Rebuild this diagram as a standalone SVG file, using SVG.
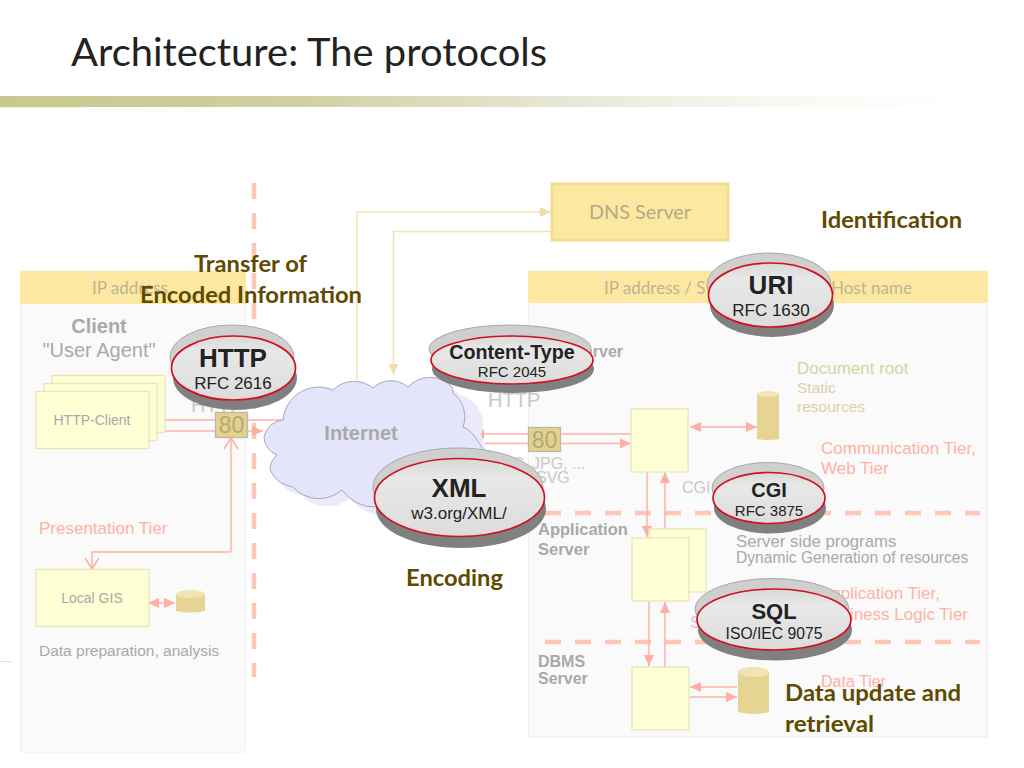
<svg xmlns="http://www.w3.org/2000/svg" width="1024" height="768" viewBox="0 0 1024 768">
<style>
text{font-family:"Liberation Sans",Arial,sans-serif}
.cal{font-family:Lato,"Open Sans",sans-serif}
.lab{font-family:Lato,"Open Sans",sans-serif;font-weight:700;font-size:23px;fill:#5f4b00}
.ip{font-family:Lato,"Open Sans",sans-serif;font-size:17px;fill:#bdb597}
.panel{fill:#fafafa;stroke:#f0f0f0}
.head{fill:#fce8a0}
.box{fill:#ffffd6;stroke:#e6e6b8;stroke-width:1.3}
.port{fill:#e3d190;stroke:#bdb9a0;stroke-width:1.3}
.portt{font-size:23px;fill:#b3ab74;text-anchor:middle}
.dash{fill:none;stroke:#ffc6b8;stroke-width:4.5;stroke-dasharray:16 14}
.pk{fill:none;stroke:#ffb0a4;stroke-width:1.5}
.ye{fill:none;stroke:#f2e3ad;stroke-width:1.5}
.cyl{fill:#e6d592}
.cyt{fill:#f0e4b4}
.g{fill:#a9a9a9}
.gb{fill:#a9a9a9;font-weight:700}
.lg{fill:#c9c9c9}
.sal{fill:#ffb1a3}
.tan{fill:#d9d2a2}
.top{fill:#cfcfcf;stroke:#a8a8a8;stroke-width:1}
.bot{fill:#808080}
.red{fill:url(#disc);stroke:#d2101f;stroke-width:1.7}
.big{font-weight:700;fill:#222;text-anchor:middle}
.sm{fill:#222;text-anchor:middle}
.mid{text-anchor:middle}
</style>
<defs>
<linearGradient id="bar" x1="0" x2="1" y1="0" y2="0"><stop offset="0" stop-color="#c8c88e"/><stop offset="0.3" stop-color="#cfcfa0"/><stop offset="0.6" stop-color="#e8e8d8"/><stop offset="0.8" stop-color="#f8f8f2"/><stop offset="1" stop-color="#ffffff"/></linearGradient>
<linearGradient id="disc" x1="0" x2="0" y1="0" y2="1"><stop offset="0" stop-color="#d8d8d8"/><stop offset="0.25" stop-color="#e8e8e8"/><stop offset="1" stop-color="#dcdcdc"/></linearGradient>
<marker id="f" markerUnits="userSpaceOnUse" markerWidth="12" markerHeight="12" refX="11" refY="6" orient="auto-start-reverse"><path d="M0,1 L11,6 L0,11 Z" fill="#ffaea2"/></marker>
<marker id="o" markerUnits="userSpaceOnUse" markerWidth="14" markerHeight="16" refX="12" refY="8" orient="auto"><path d="M1,1 L12,8 L1,15" fill="none" stroke="#ffaea2" stroke-width="1.5"/></marker>
<marker id="y" markerUnits="userSpaceOnUse" markerWidth="12" markerHeight="12" refX="11" refY="6" orient="auto"><path d="M0,1 L11,6 L0,11 Z" fill="#efe0a6"/></marker>
</defs>
<rect width="1024" height="768" fill="#fff"/>
<g id="title">
<rect x="0" y="96" width="960" height="11" fill="url(#bar)"/>
<rect x="0" y="107" width="82" height="1" fill="#f2f2cc"/>
<rect x="0" y="661" width="12" height="1" fill="#e8e0c4"/>
<text class="cal" x="71" y="66" font-size="38" fill="#222" textLength="476" lengthAdjust="spacingAndGlyphs">Architecture: The protocols</text>
</g>
<g id="panels">
<rect class="panel" x="20.500" y="271" width="225" height="481"/>
<rect class="head" x="20" y="271" width="226" height="33"/>
<rect class="panel" x="528.500" y="271" width="459" height="466"/>
<rect class="head" x="528" y="271" width="460" height="32"/>
<text class="ip" x="92" y="294">IP address</text>
<text class="ip" x="604" y="294">IP address / S</text>
<text class="ip" x="912" y="294" text-anchor="end">Host name</text>
</g>
<g id="tier-lines">
<path class="dash" d="M254,183V677"/>
<path class="dash" d="M545,513H980"/>
<path class="dash" d="M545,642H980"/>
</g>
<g id="connectors">
<path class="ye" d="M357,380V212H551" marker-end="url(#y)"/>
<path class="ye" d="M551,231.500H393.500V375" marker-end="url(#y)"/>
<path class="pk" d="M283,420H149" marker-end="url(#f)"/>
<path class="pk" d="M152,431H263" marker-end="url(#f)"/>
<path class="pk" d="M231,552V438" marker-end="url(#o)"/>
<path class="pk" d="M231,552H92V569" marker-end="url(#o)"/>
<path class="pk" d="M148,603H175" marker-start="url(#f)" marker-end="url(#f)"/>
<path class="pk" d="M631,434H473" marker-end="url(#f)"/>
<path class="pk" d="M485,443.500H631" marker-end="url(#f)"/>
<path class="pk" d="M690,427H757" marker-start="url(#f)" marker-end="url(#f)"/>
<path class="pk" d="M647,472V537" marker-end="url(#f)"/>
<path class="pk" d="M665,530V472" marker-end="url(#f)"/>
<path class="pk" d="M649,602V666" marker-end="url(#f)"/>
<path class="pk" d="M665,667V602" marker-end="url(#f)"/>
<path class="pk" d="M737,687H690" marker-end="url(#f)"/>
<path class="pk" d="M690,697H737" marker-end="url(#f)"/>
</g>
<g id="client">
<text class="gb mid" x="99" y="333" font-size="20">Client</text>
<text class="g mid" x="99" y="357" font-size="20">"User Agent"</text>
<rect class="box" x="52" y="375.500" width="113" height="57"/>
<rect class="box" x="44" y="383.500" width="113" height="57"/>
<rect class="box" x="36" y="391.500" width="113" height="57"/>
<text class="g mid" x="92" y="425" font-size="14">HTTP-Client</text>
<text class="lg" x="191" y="412" font-size="20">HTTP</text>
<rect class="port" x="215.500" y="412.500" width="32" height="25"/>
<text class="portt" x="231.500" y="433">80</text>
<text class="sal" x="39" y="534" font-size="17">Presentation Tier</text>
<rect class="box" x="36" y="569.500" width="113" height="57"/>
<text class="g mid" x="92" y="603" font-size="14">Local GIS</text>
<path class="cyl" d="M176,594V611Q190.500,614 205,611V594Z"/>
<ellipse class="cyt" cx="190.500" cy="594" rx="14.500" ry="4"/>
<text class="g" x="39" y="656" font-size="15.500">Data preparation, analysis</text>
</g>
<g id="dns">
<rect x="552" y="184" width="176" height="56" fill="#fce8a0" stroke="#f4dc90" stroke-width="3"/>
<text class="cal mid" x="589" y="219" font-size="19" fill="#b5aa88" textLength="102" lengthAdjust="spacingAndGlyphs" style="text-anchor:start">DNS Server</text>
</g>
<g id="internet">
<path d="M272,445A21,21 0 0 1 291,428A36,36 0 0 1 341,398A30,30 0 0 1 381,396A26,26 0 0 1 416,395A30,30 0 0 1 460,395A30,30 0 0 1 481,435A30,30 0 0 1 485,448A40,40 0 0 1 470,510L385,515A40,40 0 0 1 350,498A35,35 0 0 1 301,495A30,30 0 0 1 278,478A20,20 0 0 1 285,463A20,20 0 0 1 272,445Z" fill="#eaeafb"/>
<path d="M264,437A21,21 0 0 1 283,420A36,36 0 0 1 333,390A30,30 0 0 1 373,388A26,26 0 0 1 408,387A30,30 0 0 1 452,387L453,393A30,30 0 0 1 463,427A30,30 0 0 1 477,440A40,40 0 0 1 462,502L377,507A40,40 0 0 1 342,490A35,35 0 0 1 293,487A30,30 0 0 1 270,470A20,20 0 0 1 277,455A20,20 0 0 1 264,437Z" fill="#e4e4fb" stroke="#a8a8b8" stroke-width="1"/>
<text class="gb mid" x="361" y="440" font-size="20">Internet</text>
</g>
<g id="web-server">
<text class="gb" x="623" y="357" font-size="16" text-anchor="end">Web Server</text>
<text class="lg" x="488" y="407" font-size="20">HTTP</text>
<rect class="port" x="528.500" y="427.500" width="32" height="24"/>
<text class="portt" x="544.500" y="448">80</text>
<text class="lg" x="490" y="469" font-size="16">PNG,</text>
<text class="lg" x="532" y="469" font-size="16">JPG, ...</text>
<text class="lg" x="536" y="483" font-size="16">SVG</text>
<rect class="box" x="631" y="409" width="57" height="63"/>
<path class="cyl" d="M757,394V439Q768,441 779,439V394Z"/>
<ellipse class="cyt" cx="768" cy="394" rx="11" ry="3"/>
<text class="tan" x="797" y="374" font-size="17">Document root</text>
<text class="tan" x="797" y="393" font-size="15.500">Static</text>
<text class="tan" x="797" y="412" font-size="15.500">resources</text>
<text class="sal" x="821" y="454" font-size="17">Communication Tier,</text>
<text class="sal" x="821" y="474" font-size="17">Web Tier</text>
<text class="lg" x="682" y="493" font-size="16">CGI</text>
</g>
<g id="app-server">
<text class="gb" x="538" y="535" font-size="16.500">Application</text>
<text class="gb" x="538" y="555" font-size="16.500">Server</text>
<rect class="box" x="649" y="529" width="57" height="63"/>
<rect class="box" x="632" y="538" width="57" height="63"/>
<text class="g" x="736" y="547" font-size="16.800">Server side programs</text>
<text class="g" x="736" y="563" font-size="15.600">Dynamic Generation of resources</text>
<text class="sal" x="940" y="599" font-size="17" text-anchor="end">Application Tier,</text>
<text class="sal" x="968" y="620" font-size="17" text-anchor="end">Business Logic Tier</text>
<text class="lg" x="690" y="628" font-size="16">S</text>
</g>
<g id="dbms-server">
<text class="gb" x="538" y="667" font-size="16">DBMS</text>
<text class="gb" x="538" y="684" font-size="16">Server</text>
<rect class="box" x="632" y="667" width="57" height="63"/>
<path class="cyl" d="M738,672V712Q753.500,716 769,712V672Z"/>
<ellipse class="cyt" cx="753.500" cy="672" rx="15.500" ry="5"/>
<text class="sal" x="821" y="687" font-size="16">Data Tier</text>
</g>
<g id="http-disc">
<ellipse class="bot" cx="235" cy="378" rx="62" ry="32"/><ellipse class="top" cx="232" cy="357" rx="62" ry="32"/><ellipse class="red" cx="233.500" cy="368" rx="62" ry="32"/>
<text class="big" x="233" y="367" font-size="26">HTTP</text><text class="sm" x="233" y="389" font-size="17">RFC 2616</text>
</g>
<g id="content-type-disc">
<ellipse class="bot" cx="513" cy="369" rx="81" ry="24"/><ellipse class="top" cx="510" cy="349" rx="81" ry="24"/><ellipse class="red" cx="512" cy="360" rx="81" ry="24"/>
<text class="big" x="512" y="359" font-size="19.700">Content-Type</text><text class="sm" x="512" y="377" font-size="15">RFC 2045</text>
</g>
<g id="xml-disc">
<ellipse class="bot" cx="461" cy="509" rx="85" ry="39"/><ellipse class="top" cx="458" cy="487" rx="85" ry="39"/><ellipse class="red" cx="459.500" cy="497.500" rx="85" ry="39"/>
<text class="big" x="459" y="497" font-size="26">XML</text><text class="sm" x="459" y="519" font-size="17">w3.org/XML/</text>
</g>
<g id="uri-disc">
<ellipse class="bot" cx="772" cy="305" rx="62" ry="32"/><ellipse class="top" cx="769" cy="285" rx="62" ry="32"/><ellipse class="red" cx="770.500" cy="295" rx="62" ry="32"/>
<text class="big" x="771" y="294" font-size="26">URI</text><text class="sm" x="771" y="316" font-size="17">RFC 1630</text>
</g>
<g id="cgi-disc">
<ellipse class="bot" cx="770" cy="508" rx="56" ry="25.500"/><ellipse class="top" cx="768" cy="488" rx="56" ry="25.500"/><ellipse class="red" cx="769" cy="498" rx="56" ry="25.500"/>
<text class="big" x="769" y="497" font-size="20">CGI</text><text class="sm" x="769" y="516" font-size="15">RFC 3875</text>
</g>
<g id="sql-disc">
<ellipse class="bot" cx="775" cy="630" rx="77" ry="30.500"/><ellipse class="top" cx="772" cy="609" rx="77" ry="30.500"/><ellipse class="red" cx="774" cy="619.500" rx="77" ry="30.500"/>
<text class="big" x="774" y="619" font-size="22">SQL</text><text class="sm" x="774" y="639" font-size="15.700">ISO/IEC 9075</text>
</g>
<g id="labels">
<text class="lab" x="194" y="272" textLength="113" lengthAdjust="spacingAndGlyphs">Transfer of</text>
<text class="lab" x="140" y="303" textLength="222" lengthAdjust="spacingAndGlyphs">Encoded Information</text>
<text class="lab" x="821" y="228" textLength="141" lengthAdjust="spacingAndGlyphs">Identification</text>
<text class="lab" x="406" y="586" textLength="97" lengthAdjust="spacingAndGlyphs">Encoding</text>
<text class="lab" x="785" y="701" textLength="176" lengthAdjust="spacingAndGlyphs">Data update and</text>
<text class="lab" x="785" y="732" textLength="89" lengthAdjust="spacingAndGlyphs">retrieval</text>
</g>
</svg>
